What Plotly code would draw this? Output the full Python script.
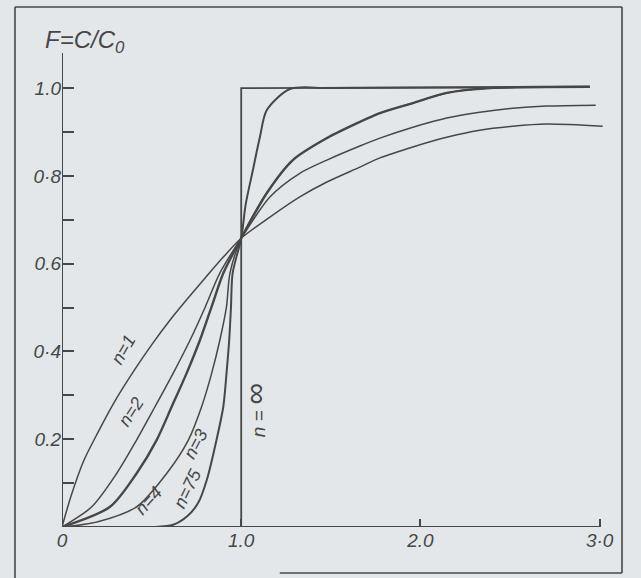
import plotly.graph_objects as go

# ---- data (theta = t/t_mean, F = C/C0) ----
n1_x = [0, 0.05, 0.12, 0.20, 0.30, 0.40, 0.50, 0.60, 0.70, 0.80, 0.90, 1.0, 1.160, 1.327, 1.478, 1.662, 1.774, 1.958, 2.147, 2.331, 2.515, 2.705, 3.017]
n1_y = [0, 0.070, 0.150, 0.215, 0.290, 0.355, 0.415, 0.470, 0.520, 0.568, 0.615, 0.658, 0.706, 0.752, 0.786, 0.820, 0.841, 0.866, 0.888, 0.904, 0.913, 0.918, 0.913]

n2_x = [0, 0.166, 0.305, 0.416, 0.519, 0.620, 0.715, 0.800, 0.880, 1.0, 1.160, 1.327, 1.478, 1.662, 1.774, 1.958, 2.147, 2.331, 2.515, 2.705, 2.978]
n2_y = [0, 0.046, 0.122, 0.198, 0.274, 0.350, 0.426, 0.502, 0.578, 0.658, 0.752, 0.806, 0.836, 0.868, 0.886, 0.911, 0.932, 0.945, 0.954, 0.959, 0.961]

n4_x = [0, 0.268, 0.416, 0.528, 0.612, 0.695, 0.770, 0.835, 0.900, 1.0, 1.143, 1.288, 1.478, 1.662, 1.774, 1.958, 2.147, 2.387, 2.945]
n4_y = [0, 0.046, 0.122, 0.198, 0.274, 0.350, 0.426, 0.502, 0.578, 0.658, 0.761, 0.836, 0.886, 0.923, 0.943, 0.966, 0.989, 1.000, 1.003]

n3_x = [0, 0.200, 0.416, 0.584, 0.705, 0.779, 0.835, 0.881, 0.918, 0.937, 1.0, 1.143, 1.288, 1.478, 1.662, 1.774, 1.958, 2.147, 2.387, 2.945]
n3_y = [0, 0.012, 0.046, 0.122, 0.198, 0.274, 0.350, 0.426, 0.502, 0.578, 0.658, 0.761, 0.836, 0.886, 0.923, 0.943, 0.966, 0.989, 1.000, 1.003]

n75_x = [0.52, 0.62, 0.70, 0.76, 0.81, 0.862, 0.900, 0.918, 0.933, 0.943, 0.952, 1.0, 1.025, 1.065, 1.104, 1.143, 1.272, 1.5, 2.945]
n75_y = [0, 0.005, 0.025, 0.055, 0.110, 0.198, 0.274, 0.350, 0.426, 0.502, 0.578, 0.658, 0.735, 0.813, 0.888, 0.950, 0.998, 1.0, 1.003]

ninf_x = [1.0, 1.0, 2.945]
ninf_y = [0, 1.0, 1.003]

ytick_vals = [0.1, 0.2, 0.3, 0.4, 0.5, 0.6, 0.7, 0.8, 0.9, 1.0]
ytick_text = ["", "0.2", "", "0·4", "", "0.6", "", "0·8", "", "1.0"]
xtick_vals = [0, 1, 2, 3]
xtick_text = ["0", "1.0", "2.0", "3·0"]

labels = [
    ("n=1", 0.345, 0.405, -60),
    ("n=2", 0.385, 0.262, -57),
    ("n=4", 0.480, 0.060, -48),
    ("n=3", 0.745, 0.190, -62),
    ("n=75", 0.700, 0.090, -64),
]

INK = "#474747"
BG = "#e3e7e9"
FONT = "Liberation Sans"

fig = go.Figure()
curves = [(n1_x, n1_y, 1.5), (n2_x, n2_y, 1.5), (n4_x, n4_y, 2.4),
          (n3_x, n3_y, 1.5), (n75_x, n75_y, 2.0)]
for xs, ys, w in curves:
    fig.add_trace(go.Scatter(x=xs, y=ys, mode="lines",
                             line=dict(color=INK, width=w, shape="spline", smoothing=0.8),
                             hoverinfo="skip", showlegend=False))
fig.add_trace(go.Scatter(x=ninf_x, y=ninf_y, mode="lines",
                         line=dict(color=INK, width=1.8), hoverinfo="skip", showlegend=False))

# axes lines
fig.add_shape(type="line", xref="x", yref="y", x0=0, y0=0, x1=3.0, y1=0,
              line=dict(color=INK, width=2))
fig.add_shape(type="line", xref="x", yref="y", x0=0, y0=0, x1=0, y1=1.08,
              line=dict(color=INK, width=2))

# outer frame (paper coords)
for x0, y0, x1, y1 in [(-0.0866, -0.12, -0.0866, 1.097),
                       (-0.0866, 1.097, 1.0313, 1.097),
                       (1.0313, 1.097, 1.0313, -0.097),
                       (0.401, -0.097, 1.0313, -0.097)]:
    fig.add_shape(type="line", xref="paper", yref="paper", x0=x0, y0=y0, x1=x1, y1=y1,
                  line=dict(color=INK, width=1.6))

for txt, x, y, ang in labels:
    fig.add_annotation(x=x, y=y, xref="x", yref="y", text=txt, showarrow=False,
                       textangle=ang, font=dict(family=FONT, size=18, color=INK, style="italic"))
fig.add_annotation(x=1.075, y=0.265, xref="x", yref="y",
                   text="n = <span style='font-size:30px'>∞</span>", showarrow=False,
                   textangle=-90, font=dict(family=FONT, size=19, color=INK, style="italic"))
fig.add_annotation(x=0.042, y=1.025, xref="paper", yref="paper", text="F=C/C<sub>0</sub>",
                   xanchor="center", yanchor="middle",
                   showarrow=False, font=dict(family=FONT, size=24, color=INK, style="italic"))

fig.update_layout(
    width=641, height=578,
    margin=dict(l=62, r=36, t=53, b=51),
    paper_bgcolor=BG, plot_bgcolor=BG,
    xaxis=dict(range=[0, 3.03], showgrid=False, zeroline=False, showline=False,
               tickvals=xtick_vals, ticktext=xtick_text, ticks="inside", ticklen=8,
               tickwidth=2, tickcolor=INK,
               tickfont=dict(family=FONT, size=19, color=INK, style="italic")),
    yaxis=dict(range=[0, 1.08], showgrid=False, zeroline=False, showline=False,
               tickvals=ytick_vals, ticktext=ytick_text, ticks="inside", ticklen=12,
               tickwidth=2, tickcolor=INK,
               tickfont=dict(family=FONT, size=19, color=INK, style="italic")),
)

fig.write_html("out.html", config={"displayModeBar": False},
               post_script="document.body.style.margin='0';"
                           "document.body.style.background='#e3e7e9';")
